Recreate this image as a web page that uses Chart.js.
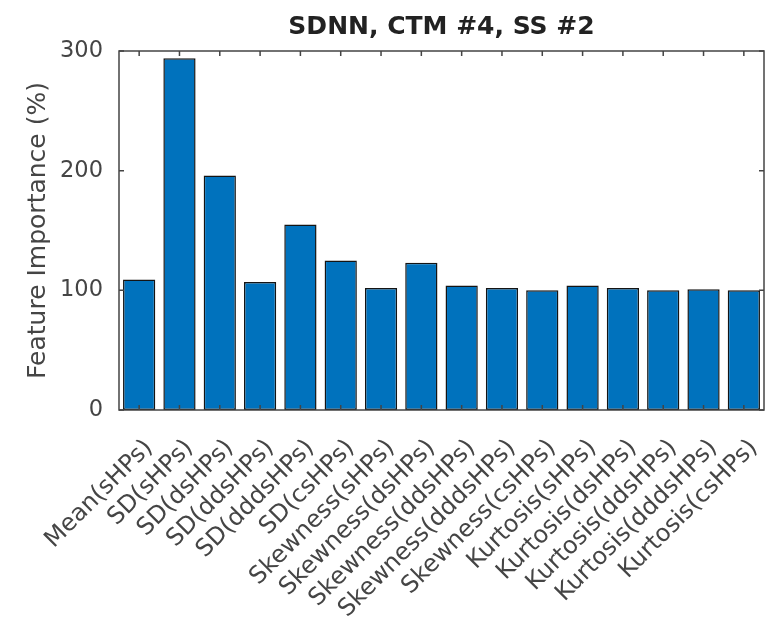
<!DOCTYPE html>
<html>
<head>
<meta charset="utf-8">
<script src="https://cdn.jsdelivr.net/npm/chart.js@4.4.1/dist/chart.umd.min.js"></script>
<style>
  html, body { margin: 0; padding: 0; background: #fff; }
</style>
</head>
<body>
<canvas id="myChart" width="774" height="627"></canvas>
<script>
// data
const featureLabels = [
  'Mean(sHPs)', 'SD(sHPs)', 'SD(dsHPs)', 'SD(ddsHPs)', 'SD(dddsHPs)', 'SD(csHPs)',
  'Skewness(sHPs)', 'Skewness(dsHPs)', 'Skewness(ddsHPs)', 'Skewness(dddsHPs)', 'Skewness(csHPs)',
  'Kurtosis(sHPs)', 'Kurtosis(dsHPs)', 'Kurtosis(ddsHPs)', 'Kurtosis(dddsHPs)', 'Kurtosis(csHPs)'
];
const importanceValues = [109, 294, 196, 107, 155, 125, 102, 123, 104, 102, 100, 104, 102, 100, 101, 100];
const yTicks = [0, 100, 200, 300];
const chartTitle = 'SDNN, CTM #4, SS #2';
const yTitle = 'Feature Importance (%)';

const fontName = "'DejaVu Sans', sans-serif";
const axisColor = '#444';
const textColor = '#454545';
const barColor = '#0072BD';

// matlab style box with inward ticks
const boxTicks = {
  id: 'boxTicks',
  afterDraw(chart) {
    const ctx = chart.ctx;
    const a = chart.chartArea;
    const xs = chart.scales.x;
    const ys = chart.scales.y;
    ctx.save();
    ctx.strokeStyle = axisColor;
    ctx.lineWidth = 1.5;
    ctx.strokeRect(a.left, a.top, a.right - a.left, a.bottom - a.top);
    ctx.beginPath();
    for (let i = 0; i < xs.ticks.length; i++) {
      let px = xs.getPixelForTick(i);
      ctx.moveTo(px, a.bottom); ctx.lineTo(px, a.bottom - 5);
      ctx.moveTo(px, a.top); ctx.lineTo(px, a.top + 5);
    }
    for (let i = 0; i < ys.ticks.length; i++) {
      let py = ys.getPixelForTick(i);
      ctx.moveTo(a.left, py); ctx.lineTo(a.left + 5, py);
      ctx.moveTo(a.right, py); ctx.lineTo(a.right - 5, py);
    }
    ctx.stroke();
    ctx.restore();
  }
};

const data = {
  labels: featureLabels,
  datasets: [{
    data: importanceValues,
    backgroundColor: barColor,
    borderColor: '#141414',
    borderWidth: 1.5,
    borderSkipped: false,
    barPercentage: 0.8,
    categoryPercentage: 1.0
  }]
};

const config = {
  type: 'bar',
  data: data,
  plugins: [boxTicks],
  options: {
    responsive: false,
    animation: false,
    layout: { padding: { left: 0, right: 10, top: 0, bottom: 0 } },
    plugins: {
      legend: { display: false },
      tooltip: { enabled: false },
      title: {
        display: true,
        text: chartTitle,
        fullSize: false,
        color: '#222',
        font: { family: fontName, size: 25, weight: 'bold' },
        padding: { top: 12, bottom: 9 }
      }
    },
    scales: {
      x: {
        offset: true,
        grid: { display: false, drawTicks: false },
        border: { display: false },
        ticks: {
          autoSkip: false,
          maxRotation: 45,
          minRotation: 45,
          padding: 24,
          labelOffset: 10,
          color: textColor,
          font: { family: fontName, size: 24 }
        },
        afterFit: function(s) {
          s.height = 217;
          s.paddingLeft = 0;
          s.paddingRight = 0;
        }
      },
      y: {
        min: 0,
        max: 300,
        grid: { display: false, drawTicks: false },
        border: { display: false },
        afterBuildTicks: function(s) { s.ticks = yTicks.map(v => ({ value: v })); },
        ticks: {
          padding: 16,
          color: textColor,
          font: { family: fontName, size: 22.5 }
        },
        title: {
          display: true,
          text: yTitle,
          color: textColor,
          font: { family: fontName, size: 25 },
          padding: { top: 23, bottom: 0 }
        },
        afterFit: function(s) {
          s.width = 119;
          s.paddingTop = 0;
          s.paddingBottom = 0;
        }
      }
    }
  }
};

var myChart = new Chart(document.getElementById('myChart'), config);
</script>
</body>
</html>
